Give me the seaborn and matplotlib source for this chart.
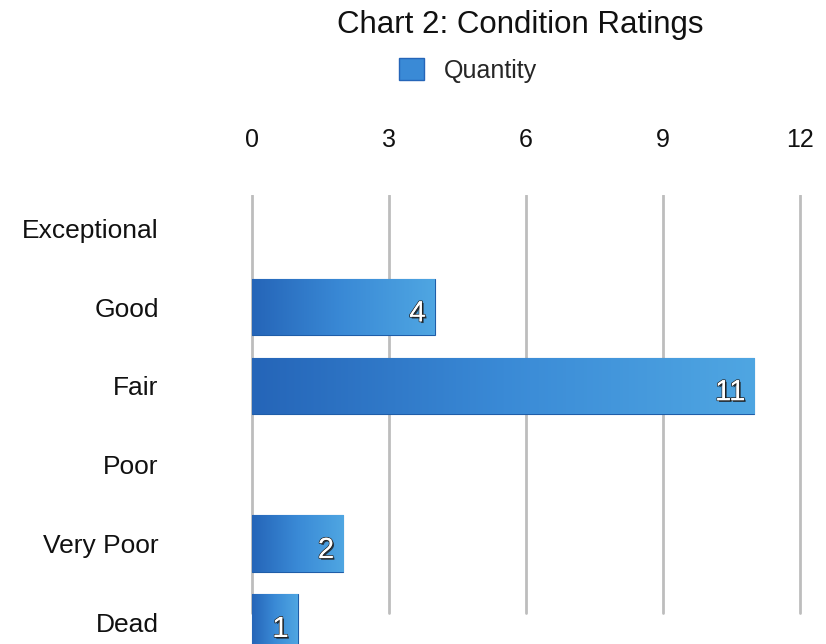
import matplotlib
matplotlib.use("Agg")
import matplotlib.pyplot as plt
import matplotlib.patheffects as pe
from matplotlib.colors import LinearSegmentedColormap
from matplotlib.patches import Patch
import numpy as np
import pandas as pd
import seaborn as sns

categories = ["Exceptional", "Good", "Fair", "Poor", "Very Poor", "Dead"]
quantity = [0, 4, 11, 0, 2, 1]
xticks = [0, 3, 6, 9, 12]
title = "Chart 2: Condition Ratings"
series_name = "Quantity"

sns.set_theme(style="white")
plt.rcParams["font.family"] = ["Liberation Sans", "DejaVu Sans"]

df = pd.DataFrame({"Condition": categories, series_name: quantity})

fig = plt.figure(figsize=(8.26, 6.44), dpi=100)
ax = fig.add_axes([192 / 826, 0.0, (808 - 192) / 826, 1 - 195 / 644])

bar_color = "#3282d3"
sns.barplot(data=df, x=series_name, y="Condition", orient="h", color=bar_color,
            width=0.72, ax=ax, saturation=1, zorder=3)

# gradient fill on bars
cmap = LinearSegmentedColormap.from_list("bl", ["#2565b8", "#3a8ad6", "#4fa6e2"])
grad = np.linspace(0, 1, 256).reshape(1, -1)
for p in ax.patches:
    w = p.get_width()
    if w <= 0:
        p.set_visible(False)
        continue
    x0, y0 = p.get_x(), p.get_y()
    h = p.get_height()
    im = ax.imshow(grad, cmap=cmap, aspect="auto", extent=[x0, x0 + w, y0 + h, y0],
                   zorder=3.5, interpolation="bicubic")
    im.set_clip_path(p)
    p.set_edgecolor("#1f5da8")
    p.set_linewidth(0.8)

# axis scale: 0 -> px 252, 12 -> px 800
ppu = (800 - 252) / 12
left = -(252 - 192) / ppu
right = 12 + (808 - 800) / ppu
ax.set_xlim(left, right)
ax.set_ylim(5.27, -0.42)

ax.set_xticks(xticks)
ax.set_xticklabels([str(t) for t in xticks])
ax.xaxis.tick_top()
ax.tick_params(axis="x", top=True, bottom=False, labeltop=True, labelbottom=False,
               length=0, pad=31, labelsize=18, labelcolor="#111111")
ax.tick_params(axis="y", length=0, pad=24, labelsize=19, labelcolor="#111111")
ax.set_xlabel("")
ax.set_ylabel("")
for s in ax.spines.values():
    s.set_visible(False)

ax.grid(False)
for t in xticks:
    ax.axvline(t, color="#bdbdbd", lw=2, zorder=1, ymin=0.07, ymax=1.0)

# value labels
for i, v in enumerate(quantity):
    if v > 0:
        ax.text(v - 0.2, i + 0.08, str(v), ha="right", va="center", fontsize=21,
                color="white", zorder=6,
                path_effects=[pe.withStroke(linewidth=1.2, foreground="#2a2a2a"),
                              pe.SimplePatchShadow(offset=(1.2, -1.2), shadow_rgbFace="#1a1a1a", alpha=0.8),
                              pe.Normal()])

fig.suptitle(title, x=0.63, y=0.985, fontsize=22.5, color="#111111")

handle = Patch(facecolor="#3a8ad6", edgecolor="#2565b8")
fig.legend(handles=[handle], labels=[series_name], loc="center",
           bbox_to_anchor=(0.567, 0.891), frameon=False, fontsize=18,
           handlelength=1.0, handleheight=1.0, handletextpad=0.8)

fig.savefig("out.png", dpi=100)
